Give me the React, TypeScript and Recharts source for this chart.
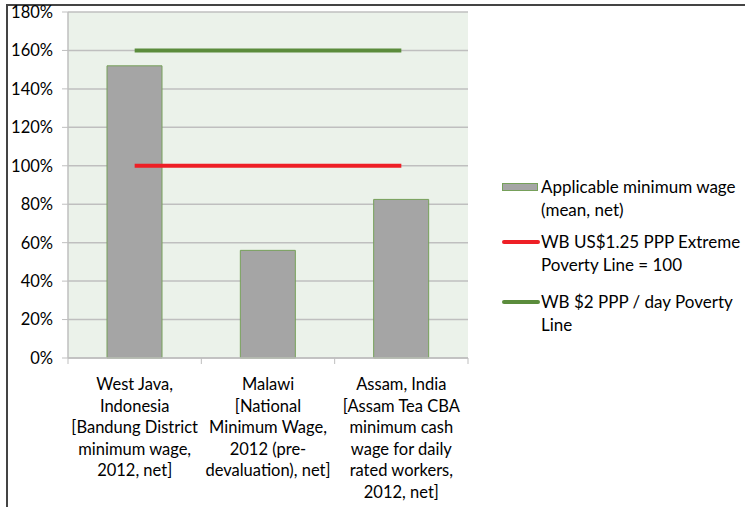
import { ComposedChart, Bar, Line, XAxis, YAxis, CartesianGrid } from 'recharts';

const categories = ['West Java', 'Malawi', 'Assam'];
const categoryLabels = [
  ['West Java,', 'Indonesia', '[Bandung District', 'minimum wage,', '2012, net]'],
  ['Malawi', '[National', 'Minimum Wage,', '2012 (pre-', 'devaluation), net]'],
  ['Assam, India', '[Assam Tea CBA', 'minimum cash', 'wage for daily', 'rated workers,', '2012, net]'],
];
const minimumWage = [152, 56, 82.5];
const extremePovertyLine = [100, 100, 100];
const twoDollarLine = [160, 160, 160];
const yTicks = [0, 20, 40, 60, 80, 100, 120, 140, 160, 180];

const FONT = 'Lato, "Open Sans", sans-serif';
const GRID = '#bfbfbf';
const BAR_FILL = '#a5a5a5';
const BAR_STROKE = '#76a05a';
const RED = '#ee1f26';
const GREEN = '#5b8c3c';

const W = 745;
const H = 507;
const X_AXIS_H = 149;
const Y_AXIS_W = 68;
const MARGIN = { top: 12, right: 277, bottom: 0, left: 0 };
const BAND = (W - MARGIN.left - MARGIN.right - Y_AXIS_W) / categories.length;

const data = categories.map((c, i) => ({
  name: c,
  wage: minimumWage[i],
  extreme: extremePovertyLine[i],
  twoDollar: twoDollarLine[i],
}));

// category label wraps like the original slide, plus boundary tick marks
function CategoryTick(props: any) {
  const { x, y, payload, index } = props;
  const lines = categoryLabels[index] || [payload.value];
  const left = x - BAND / 2;
  return (
    <g>
      <line x1={left} y1={y - 8} x2={left} y2={y - 2} stroke={GRID} />
      {index === categories.length - 1 && (
        <line x1={x + BAND / 2} y1={y - 8} x2={x + BAND / 2} y2={y - 2} stroke={GRID} />
      )}
      <text x={x} y={y + 24} textAnchor="middle" fill="#000" fontSize={16.5} fontFamily={FONT}>
        {lines.map((l: string, i: number) => (
          <tspan key={i} x={x} dy={i === 0 ? 0 : 21.6}>
            {l}
          </tspan>
        ))}
      </text>
    </g>
  );
}

function LegendBox() {
  const items = [
    { lines: ['Applicable minimum wage', '(mean, net)'], kind: 'bar', color: BAR_FILL },
    { lines: ['WB US$1.25 PPP Extreme', 'Poverty Line = 100'], kind: 'line', color: RED },
    { lines: ['WB $2 PPP / day Poverty', 'Line'], kind: 'line', color: GREEN },
  ];
  return (
    <div
      style={{
        position: 'absolute', left: 500, top: 175, width: 245,
        fontFamily: FONT, fontSize: 17, color: '#000', lineHeight: '23px',
      }}
    >
      {items.map((it, i) => (
        <div key={i} style={{ display: 'flex', alignItems: 'flex-start', marginBottom: i === 0 ? 9 : 14 }}>
          <div style={{ width: 40, height: 23, position: 'relative', flexShrink: 0 }}>
            {it.kind === 'bar' ? (
              <div
                style={{
                  position: 'absolute', left: 2, top: 8, width: 34, height: 6,
                  background: it.color, border: `1px solid ${BAR_STROKE}`,
                }}
              />
            ) : (
              <div
                style={{
                  position: 'absolute', left: 2, top: 10, width: 38, height: 4,
                  background: it.color, borderRadius: 2,
                }}
              />
            )}
          </div>
          <div style={{ paddingLeft: 1 }}>
            {it.lines.map((l, j) => (
              <div key={j}>{l}</div>
            ))}
          </div>
        </div>
      ))}
    </div>
  );
}

export default function App() {
  return (
    <div style={{ position: 'absolute', left: 0, top: 0, width: W, height: H, background: '#fff' }}>
      <div
        style={{
          position: 'absolute', left: 6, top: 4, right: 0, bottom: 0,
          borderLeft: '2px solid #444', borderTop: '2px solid #444',
        }}
      />
      <ComposedChart width={W} height={H} data={data} margin={MARGIN} barCategoryGap="29%">
        <CartesianGrid vertical={false} stroke={GRID} strokeWidth={1.5} fill="#ebf2ea" />
        <XAxis
          dataKey="name"
          interval={0}
          tick={<CategoryTick />}
          tickLine={false}
          axisLine={{ stroke: GRID, strokeWidth: 1.5 }}
          height={X_AXIS_H}
        />
        <YAxis
          domain={[0, 180]}
          ticks={yTicks}
          interval={0}
          width={Y_AXIS_W}
          tickFormatter={(v: number) => `${v}%`}
          tick={{ fill: '#000', fontSize: 16.5, fontFamily: FONT }}
          tickSize={6}
          tickMargin={9}
          tickLine={{ stroke: GRID }}
          axisLine={{ stroke: GRID, strokeWidth: 1.5 }}
        />
        <Bar dataKey="wage" fill={BAR_FILL} stroke={BAR_STROKE} strokeWidth={1} barSize={55} isAnimationActive={false} />
        <Line dataKey="extreme" stroke={RED} strokeWidth={4} dot={false} isAnimationActive={false} />
        <Line dataKey="twoDollar" stroke={GREEN} strokeWidth={4} dot={false} isAnimationActive={false} />
      </ComposedChart>
      <LegendBox />
    </div>
  );
}
